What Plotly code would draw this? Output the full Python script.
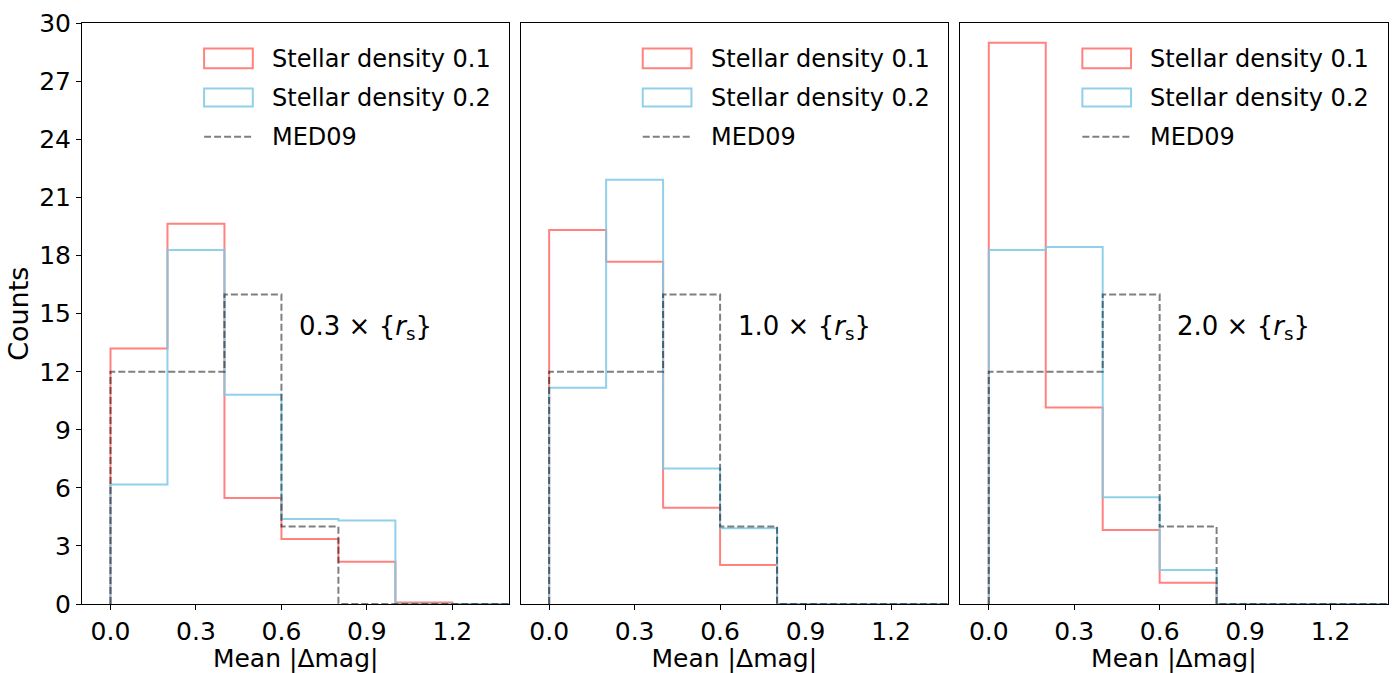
import plotly.graph_objects as go

# ---- data ----
bin_edges = [0.0, 0.2, 0.4, 0.6, 0.8, 1.0, 1.2, 1.4]
panel_labels = ["0.3", "1.0", "2.0"]

density01 = [
    [13.2, 19.65, 5.48, 3.36, 2.19, 0.08, 0.0],
    [19.33, 17.69, 4.98, 2.02, 0.0, 0.0, 0.0],
    [29.0, 10.15, 3.82, 1.1, 0.0, 0.0, 0.0],
]
density02 = [
    [6.17, 18.3, 10.82, 4.4, 4.31, 0.0, 0.0],
    [11.17, 21.93, 7.0, 3.91, 0.0, 0.0, 0.0],
    [18.3, 18.45, 5.52, 1.76, 0.0, 0.0, 0.0],
]
med09 = [12, 12, 16, 4, 0, 0, 0]

series_names = ["Stellar density 0.1", "Stellar density 0.2", "MED09"]
x_ticks = [0.0, 0.3, 0.6, 0.9, 1.2]
y_ticks = list(range(0, 31, 3))

# ---- style ----
RED = "rgba(255,95,90,0.78)"
BLUE = "rgba(125,200,230,0.85)"
GRAY = "rgba(0,0,0,0.5)"
FONT = "DejaVu Sans"

x_domains = [[0.0587, 0.3646], [0.3727, 0.6786], [0.6874, 0.9932]]
y_domain = [0.1025, 0.9651]


def step_xy(edges, counts):
    xs = [edges[0]] + list(edges) + [edges[-1]]
    ys = [0] + list(counts) + [counts[-1], 0]
    return xs, ys


fig = go.Figure()
layout = {}
annotations = []
shapes = []

for i in range(3):
    sfx = "" if i == 0 else str(i + 1)
    xa, ya = "x" + sfx, "y" + sfx
    for counts, col, dash in [
        (density01[i], RED, "solid"),
        (density02[i], BLUE, "solid"),
        (med09, GRAY, "7px,3px"),
    ]:
        xs, ys = step_xy(bin_edges, counts)
        fig.add_trace(go.Scatter(
            x=xs, y=ys, mode="lines", line_shape="hv",
            line=dict(color=col, width=2, dash=dash),
            xaxis=xa, yaxis=ya, showlegend=False, hoverinfo="skip",
        ))
    layout["xaxis" + sfx] = dict(
        domain=x_domains[i], range=[-0.1, 1.4], anchor=ya,
        tickmode="array", tickvals=x_ticks,
        ticktext=[f"{v:.1f}" for v in x_ticks],
        ticks="outside", ticklen=5, tickwidth=1, tickcolor="black",
        showline=True, linecolor="black", linewidth=1, mirror=True,
        showgrid=False, zeroline=False,
        tickfont=dict(family=FONT, size=25, color="black"),
        title=dict(text="Mean |Δmag|", font=dict(family=FONT, size=25, color="black"), standoff=6),
        automargin=False,
    )
    ydict = dict(
        domain=y_domain, range=[0, 30], anchor=xa,
        showline=True, linecolor="black", linewidth=1, mirror=True,
        showgrid=False, zeroline=False,
        automargin=False,
    )
    if i == 0:
        ydict.update(
            tickmode="array", tickvals=y_ticks, ticktext=[str(v) for v in y_ticks],
            ticks="outside", ticklen=5, tickwidth=1, tickcolor="black",
            tickfont=dict(family=FONT, size=25, color="black"),
            title=dict(text="Counts", font=dict(family=FONT, size=27, color="black"), standoff=2),
        )
    else:
        ydict.update(showticklabels=False, ticks="")
    layout["yaxis" + sfx] = ydict

    annotations.append(dict(
        x=0.655, y=14.3, xref=xa, yref=ya, xanchor="left", yanchor="middle",
        text=f"{panel_labels[i]} × {{<i>r</i><sub>s</sub>}}", showarrow=False,
        font=dict(family=FONT, size=26, color="black"),
    ))

    # legend (drawn inside each panel)
    xd, yd = xa + " domain", ya + " domain"
    shapes.append(dict(type="rect", xref=xd, yref=yd, x0=0.2857, x1=0.3997, y0=0.923, y1=0.957,
                       line=dict(color=RED, width=2), fillcolor="rgba(0,0,0,0)"))
    shapes.append(dict(type="rect", xref=xd, yref=yd, x0=0.2857, x1=0.3997, y0=0.857, y1=0.888,
                       line=dict(color=BLUE, width=2), fillcolor="rgba(0,0,0,0)"))
    shapes.append(dict(type="line", xref=xd, yref=yd, x0=0.2857, x1=0.3997, y0=0.805, y1=0.805,
                       line=dict(color=GRAY, width=2, dash="7px,3px")))
    for name, yy in zip(series_names, [0.9395, 0.8725, 0.805]):
        annotations.append(dict(
            x=0.44, y=yy, xref=xd, yref=yd, xanchor="left", yanchor="middle",
            text=name, showarrow=False, font=dict(family=FONT, size=24, color="black"),
        ))

fig.update_layout(
    width=1397, height=673,
    margin=dict(l=0, r=0, t=0, b=0),
    paper_bgcolor="white", plot_bgcolor="white",
    annotations=annotations, shapes=shapes,
    showlegend=False,
    **layout,
)

fig.write_html("out.html")
